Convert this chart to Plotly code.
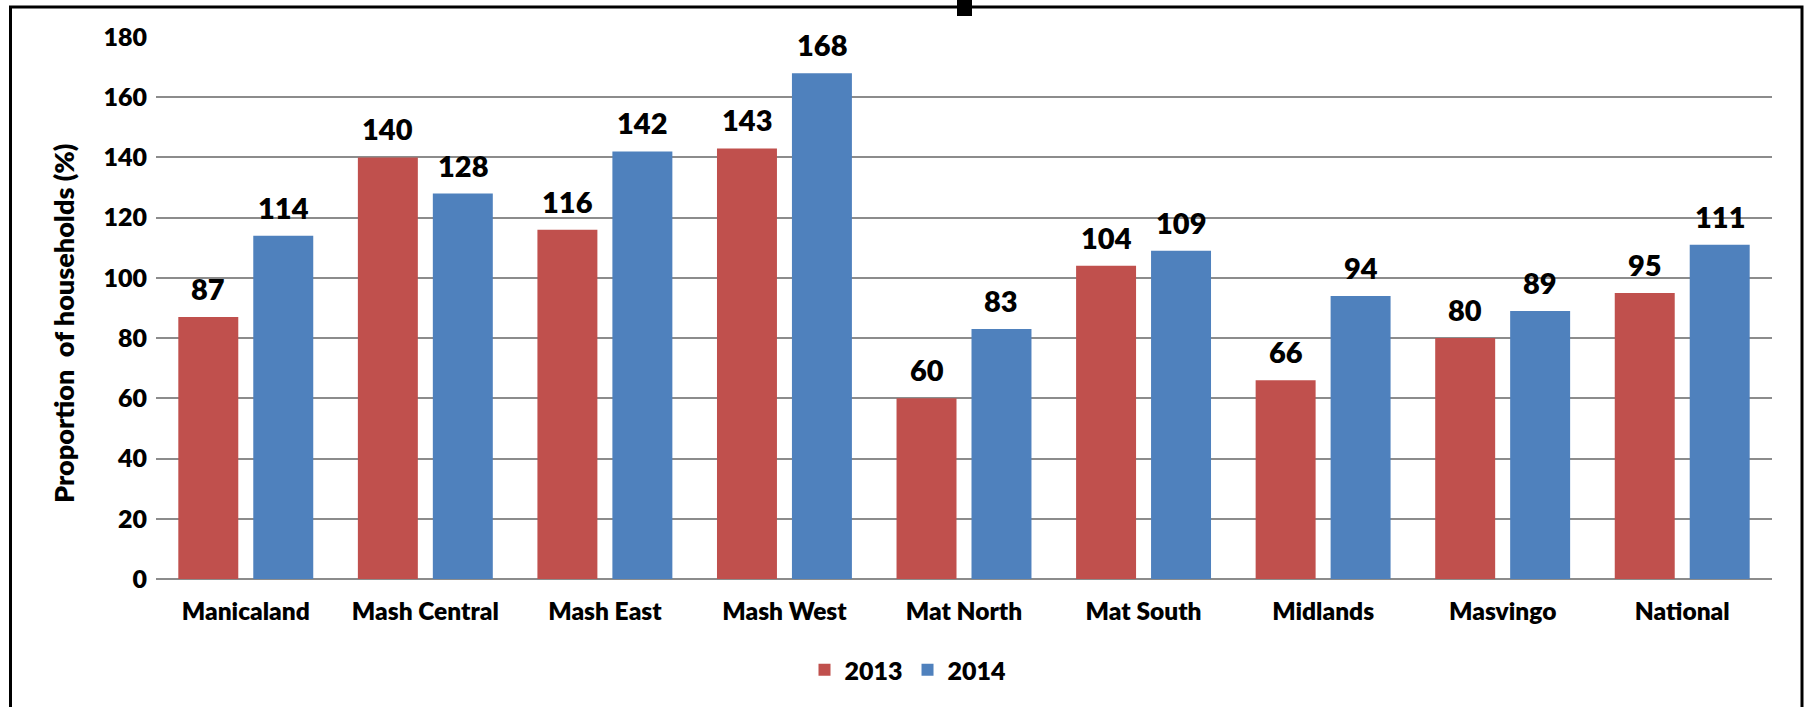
import plotly.graph_objects as go

regions = ["Manicaland", "Mash Central", "Mash East", "Mash West", "Mat North",
           "Mat South", "Midlands", "Masvingo", "National"]
values_2013 = [87, 140, 116, 143, 60, 104, 66, 80, 95]
values_2014 = [114, 128, 142, 168, 83, 109, 94, 89, 111]
series_names = ["2013", "2014"]
series_colors = ["#C0504D", "#4F81BD"]
y_ticks = [0, 20, 40, 60, 80, 100, 120, 140, 160, 180]
y_title = "Proportion  of households (%)"

W, H = 1806, 707
ML, MR, MT, MB = 156, 34, 37, 128
PW, PH = W - ML - MR, H - MT - MB

def px_x(px):
    return (px - ML) / PW

def px_y(py):
    return (H - MB - py) / PH

FONT = "Lato"
WEIGHT = 800

fig = go.Figure()
for name, vals, color in zip(series_names, [values_2013, values_2014], series_colors):
    fig.add_trace(go.Bar(
        name=name, x=regions, y=vals,
        marker=dict(color=color, line=dict(width=0)),
        hoverinfo="x+y",
    ))

# value labels above each bar
slot_px = PW / len(regions) * (1 - 0.165) / 2
annotations = []
for i, vals in enumerate([values_2013, values_2014]):
    shift = (i - 0.5) * slot_px
    for cat, v in zip(regions, vals):
        annotations.append(dict(
            x=cat, y=v, xref="x", yref="y", text=str(v), showarrow=False,
            xshift=shift, yshift=9, yanchor="bottom",
            font=dict(family=FONT, size=29, color="black", weight=WEIGHT),
        ))

# y-axis title placed as a rotated annotation
annotations.append(dict(
    x=px_x(63), y=px_y(324), xref="paper", yref="paper", text=y_title,
    showarrow=False, textangle=-90, xanchor="center", yanchor="middle",
    font=dict(family=FONT, size=27, color="black", weight=WEIGHT),
))

shapes = [
    # chart frame
    dict(type="rect", xref="paper", yref="paper",
         x0=px_x(10.5), x1=px_x(1802), y0=px_y(760), y1=px_y(7),
         line=dict(color="black", width=3), fillcolor="rgba(0,0,0,0)", layer="above"),
    # small tab on the top edge
    dict(type="rect", xref="paper", yref="paper",
         x0=px_x(957), x1=px_x(972), y0=px_y(16), y1=px_y(-5),
         line=dict(color="black", width=0), fillcolor="black", layer="above"),
]

fig.update_layout(
    width=W, height=H,
    margin=dict(l=ML, r=MR, t=MT, b=MB, autoexpand=False),
    paper_bgcolor="white", plot_bgcolor="white",
    font=dict(family=FONT, size=24, color="black", weight=WEIGHT),
    barmode="group", bargap=0.165, bargroupgap=0.2,
    showlegend=True,
    legend=dict(orientation="h", x=px_x(908), xanchor="center",
                y=px_y(670), yanchor="middle",
                font=dict(family=FONT, size=25, color="black", weight=WEIGHT),
                itemwidth=30, bgcolor="rgba(0,0,0,0)"),
    annotations=annotations,
    shapes=shapes,
)
fig.update_xaxes(
    showgrid=False, showline=False, ticks="",
    tickfont=dict(family=FONT, size=24.5, color="black", weight=WEIGHT),
    ticklabelstandoff=15,
)
fig.update_yaxes(
    range=[0, 180], tickvals=y_ticks, ticktext=[str(t) for t in y_ticks],
    showgrid=True, gridcolor="#8c8c8c", gridwidth=1.5,
    zeroline=True, zerolinecolor="#8c8c8c", zerolinewidth=2,
    showline=False, ticks="",
    tickfont=dict(family=FONT, size=25, color="black", weight=WEIGHT),
    ticklabelstandoff=8,
)

fig.write_html("out.html")
